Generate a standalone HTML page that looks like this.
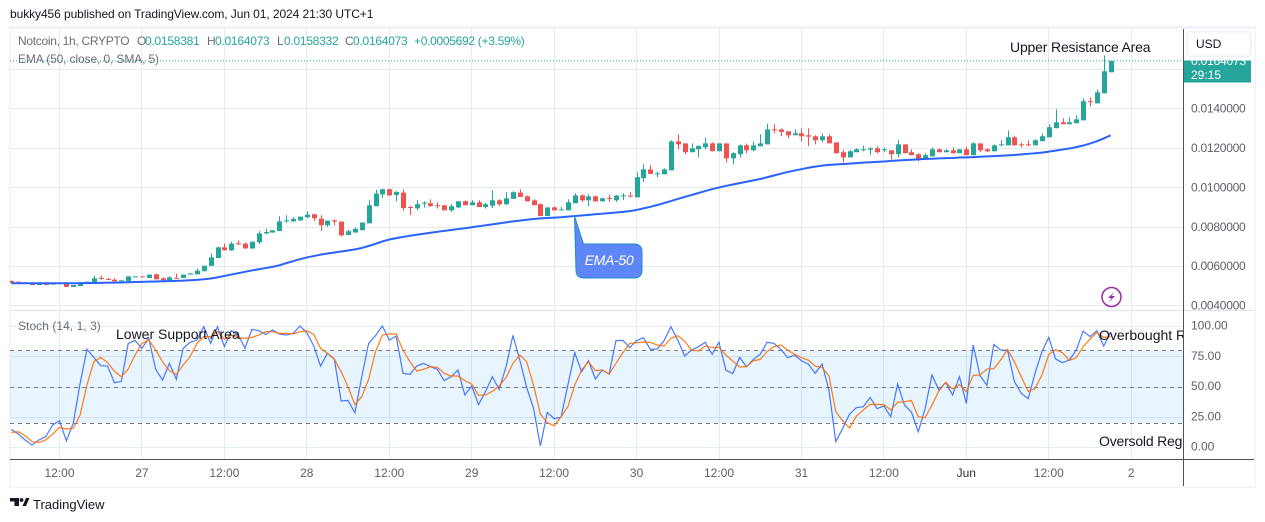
<!DOCTYPE html>
<html lang="en">
<head>
<meta charset="utf-8">
<title>Notcoin 1h chart</title>
<style>
html,body{margin:0;padding:0;background:#fff;width:1265px;height:522px;overflow:hidden}
svg{display:block}
text{font-family:"Liberation Sans",sans-serif}
</style>
</head>
<body>
<svg id="chart" width="1265" height="522" viewBox="0 0 1265 522" xmlns="http://www.w3.org/2000/svg">
  <defs>
    <clipPath id="pricePane"><rect x="10" y="29" width="1173" height="281"/></clipPath>
    <clipPath id="stochPane"><rect x="10" y="311" width="1173" height="148"/></clipPath>
  </defs>
  <text x="10" y="18" font-size="12" fill="#131722" letter-spacing="-.08">bukky456 published on TradingView.com, Jun 01, 2024 21:30 UTC+1</text>
  <rect x="9" y="26" width="1247" height="462" fill="#f0f3fa"/>
  <rect x="10.5" y="29" width="1244" height="457.5" fill="#fff"/>
  <g id="grid"></g>
  <rect id="stochBand" x="10" y="350" width="1173" height="73" fill="#2196f3" fill-opacity=".1"/>
  <g id="stochLevels"></g>
  <line x1="10" x2="1254" y1="310.5" y2="310.5" stroke="#e0e3eb"/>
  <g clip-path="url(#pricePane)">
    <g id="candles"></g>
    <path id="emaLine" fill="none" stroke="#2962ff" stroke-width="2" stroke-linejoin="round"/>
    <line id="lastPriceLine" x1="10" x2="1183" stroke="#26a69a" stroke-dasharray="1 2"/>
  </g>
  <g clip-path="url(#stochPane)">
    <path id="stochK" fill="none" stroke="#2962ff" stroke-opacity=".85" stroke-width="1.2"/>
    <path id="stochD" fill="none" stroke="#ff6d00" stroke-opacity=".9" stroke-width="1.2"/>
    <text x="116" y="339" font-size="14" fill="#131722">Lower Support Area</text>
    <text x="1099" y="340" font-size="14" fill="#131722">Overbought Region</text>
    <text x="1099" y="446" font-size="14" fill="#131722" letter-spacing="-.2">Oversold Region</text>
  </g>
  <text x="1010" y="52" font-size="14" fill="#131722" letter-spacing="-.17">Upper Resistance Area</text>
  <g>
    <path d="M574.5 216 L583.5 244 H634 Q642 244 642 252 V270 Q642 278 634 278 H584 Q576 278 576 270 Z" fill="#5f86f7" stroke="#1f8fc4" stroke-width="1"/>
    <text x="609" y="265" font-size="14" font-style="italic" fill="#fff" text-anchor="middle" letter-spacing="-.3">EMA-50</text>
  </g>
  <g font-size="12" letter-spacing="-.25">
    <text x="18" y="45" fill="#6a6d78" letter-spacing="-.3">Notcoin, 1h, CRYPTO</text>
    <text x="137" y="45" fill="#6a6d78">O</text><text x="145" y="45" fill="#26a69a">0.0158381</text>
    <text x="207" y="45" fill="#6a6d78">H</text><text x="215" y="45" fill="#26a69a">0.0164073</text>
    <text x="277" y="45" fill="#6a6d78">L</text><text x="284" y="45" fill="#26a69a">0.0158332</text>
    <text x="345" y="45" fill="#6a6d78">C</text><text x="353" y="45" fill="#26a69a">0.0164073</text>
    <text x="414" y="45" fill="#26a69a" letter-spacing="-.3">+0.0005692 (+3.59%)</text>
    <text x="18" y="63" fill="#6a6d78" letter-spacing="-.12">EMA (50, close, 0, SMA, 5)</text>
    <text x="18" y="330" fill="#6a6d78" letter-spacing=".05">Stoch (14, 1, 3)</text>
  </g>
  <g>
    <circle cx="1111.5" cy="297" r="9.5" fill="#fff" stroke="#9c27b0" stroke-width="1.5"/>
    <path d="M1114.5 291.5 L1108 298 H1111.5 L1108.5 302.5 L1115 296 H1111.5 Z" fill="#9c27b0"/>
  </g>
  <line x1="1183.5" x2="1183.5" y1="29" y2="486" stroke="#50535e"/>
  <line x1="10" x2="1254" y1="459.5" y2="459.5" stroke="#50535e"/>
  <g id="priceTicks"></g>
  <g id="stochTicks"></g>
  <g id="timeTicks"></g>
  <g>
    <rect x="1184" y="60.5" width="67" height="22" fill="#26a69a"/>
    <text x="1191" y="65" font-size="12" fill="#fff" letter-spacing="-.2">0.0164073</text>
    <text x="1191" y="79" font-size="12" fill="#fff">29:15</text>
  </g>
  <g>
    <rect x="1187" y="31.5" width="64" height="25" rx="4" fill="#fff" stroke="#f0f3fa" stroke-width="2"/>
    <text x="1196" y="48" font-size="12" fill="#131722">USD</text>
  </g>
  <g>
    <path d="M10 498 H19 V506 H14.5 V501.5 H10 Z M22.5 506 L26 498 H29.5 L26 506 Z" fill="#131722"/>
    <circle cx="21.5" cy="500" r="1.9" fill="#131722"/>
    <text x="33" y="509" font-size="13" fill="#131722">TradingView</text>
  </g>
</svg>
<script>
// Prices are in units of 0.0001 USD (52.4 = 0.00524).
const opens = [52.4,52.0,51.7,51.2,50.3,51.2,50.5,51.0,51.2,49.3,
49.8,51.3,51.5,53.9,53.4,53.0,52.2,52.2,54.4,54.7,
53.9,55.7,53.7,52.7,54.0,53.9,55.6,55.7,57.3,60.0,
64.0,69.4,67.9,71.5,71.3,68.8,72.0,76.5,76.9,77.7,
82.8,82.6,83.1,84.7,86.2,84.0,80.6,83.1,82.5,75.7,
77.0,78.1,81.6,90.3,96.3,98.9,96.0,97.2,89.9,89.2,
91.8,91.8,90.8,90.8,88.2,89.7,92.8,90.8,92.3,89.9,
90.6,93.3,91.3,94.0,97.2,95.3,93.3,91.3,85.3,89.7,
88.2,88.2,91.8,95.8,93.3,95.3,92.8,94.5,93.3,95.5,
95.7,94.8,104.5,108.9,106.7,106.5,108.5,123.2,122.2,117.7,
119.2,120.2,122.2,118.2,122.2,114.6,116.7,121.2,118.7,120.7,
121.7,129.3,129.3,128.3,126.3,127.3,126.3,125.8,123.8,125.8,
122.7,117.7,115.1,117.7,118.9,119.0,119.7,118.7,118.7,116.7,
121.7,117.7,116.7,114.1,115.6,119.2,117.7,118.7,117.2,119.2,
116.2,122.2,119.2,118.2,121.2,121.2,125.3,121.7,121.7,121.2,
123.3,125.3,129.9,132.9,131.9,132.4,133.9,143.6,142.5,147.6,
158.3];
const closes = [51.3,51.2,51.0,50.3,51.3,50.3,51.3,51.3,49.3,50.3,
51.7,52.0,53.7,53.4,52.9,52.2,52.7,54.7,54.7,54.4,
55.6,53.2,52.7,54.2,53.7,55.6,56.2,57.6,60.1,64.3,
69.4,67.9,71.3,71.0,68.9,72.3,76.5,77.2,78.1,82.6,
83.1,83.8,85.0,86.0,84.2,80.6,83.0,82.5,75.5,77.6,
78.8,82.0,90.8,96.7,98.9,95.8,97.5,89.4,89.6,91.3,
92.1,90.4,90.4,88.2,90.3,92.8,90.8,92.3,89.9,91.3,
93.3,91.3,94.3,97.4,95.0,92.8,90.8,85.3,89.7,88.2,
88.7,92.3,95.8,93.3,95.3,92.8,94.3,94.1,95.7,95.8,
95.3,105.0,109.0,106.7,107.0,109.0,123.2,121.7,117.7,119.7,
120.9,122.2,118.2,122.2,114.6,117.2,121.2,118.7,121.2,122.2,
129.3,128.8,128.0,126.3,127.3,125.8,125.6,123.8,125.8,122.2,
117.2,115.1,118.2,119.2,119.2,119.7,117.7,119.2,116.7,121.7,
117.2,116.2,114.1,116.2,119.2,117.7,118.7,117.2,119.2,116.2,
122.2,118.7,118.2,121.2,121.7,125.3,121.2,121.2,121.2,123.8,
125.8,130.4,132.9,131.9,132.9,134.4,143.6,143.1,148.1,158.8,
164.1];
const highs = [52.6,52.0,51.7,51.2,51.3,51.2,51.3,51.4,51.2,50.3,
51.7,52.0,55.1,55.1,53.9,53.7,52.7,54.7,54.7,54.7,
55.6,56.1,54.2,54.7,56.1,55.6,56.2,58.6,60.1,66.2,
69.9,71.3,72.3,73.0,71.8,72.3,77.6,78.9,78.1,85.2,
85.7,84.8,85.0,87.7,86.5,85.7,83.0,83.6,82.5,78.4,
79.4,82.0,93.3,98.7,99.2,99.2,98.0,98.9,90.4,93.3,
92.8,93.8,92.3,90.8,91.6,92.8,93.3,93.3,93.3,92.0,
98.4,93.8,97.4,97.9,98.9,95.8,93.8,91.8,89.7,90.3,
89.9,93.8,96.9,96.3,96.3,95.8,94.7,96.2,96.0,96.9,
97.4,107.5,111.6,111.1,107.9,109.6,123.8,126.8,122.2,122.2,
121.2,125.1,122.7,122.2,122.2,117.7,121.7,122.1,123.2,126.8,
132.2,131.9,129.8,128.3,129.3,129.8,129.8,126.3,127.3,126.8,
122.7,119.0,119.0,119.7,121.1,120.2,120.7,120.2,118.7,123.8,
121.7,119.2,117.2,117.2,120.2,119.7,119.2,120.2,119.2,120.7,
122.7,122.2,119.7,121.7,123.8,128.8,125.8,122.7,123.8,124.3,
127.3,131.9,139.5,134.9,135.4,136.4,145.1,145.6,149.6,166.9,
164.1];
const lows = [51.2,51.2,51.0,50.3,50.3,50.3,50.5,51.0,49.3,49.3,
49.8,51.3,51.5,53.0,52.9,52.2,52.2,52.2,54.4,54.4,
53.9,53.2,52.7,52.7,53.7,53.9,55.6,55.7,57.3,60.0,
64.0,67.9,67.6,70.6,68.6,68.8,71.1,76.0,76.9,77.7,
81.8,82.3,82.8,84.3,82.8,77.7,79.8,80.6,75.0,75.7,
76.7,78.1,81.6,90.3,94.3,95.5,92.8,87.9,85.7,88.2,
89.6,89.9,89.1,88.2,87.4,89.4,90.8,90.8,89.9,89.1,
89.4,90.4,90.8,94.0,95.0,92.8,90.8,85.3,85.3,88.2,
88.2,88.2,91.8,92.5,90.4,92.5,92.5,92.5,92.5,93.5,
94.7,94.8,102.6,106.7,105.1,106.5,108.5,119.2,116.7,117.7,
115.1,119.2,118.2,118.2,112.6,111.6,115.1,117.3,118.2,120.7,
121.7,127.3,125.8,124.8,126.3,123.2,120.7,121.7,122.7,122.2,
117.2,112.6,115.1,117.7,118.2,116.2,117.2,117.7,114.1,115.1,
117.2,116.2,113.1,114.1,115.6,117.7,117.7,117.2,117.2,116.2,
116.2,117.7,117.7,118.2,120.7,121.2,121.2,120.2,120.7,121.2,
123.3,125.3,129.9,131.9,131.9,132.4,133.9,141.0,142.5,147.6,
158.3];
const ema50 = [51.2,51.2,51.2,51.2,51.2,51.2,51.2,51.2,51.2,51.2,51.2,
51.3,51.3,51.4,51.5,51.5,51.6,51.7,51.8,
51.9,52.0,52.1,52.2,52.3,52.4,52.5,52.7,52.9,
53.2,53.6,54.2,
54.9,55.6,56.3,57.0,57.7,58.3,58.9,59.5,
60.3,61.4,62.4,63.4,64.3,
65.0,65.7,66.3,66.8,67.3,67.8,68.4,69.1,
70.1,71.2,72.4,73.4,
74.1,74.7,75.3,75.8,
76.3,76.8,77.3,77.8,78.2,78.7,79.1,79.6,
80.1,80.6,81.1,81.6,82.1,82.6,83.0,83.4,
83.8,84.1,84.3,84.5,84.7,85.0,85.3,
85.6,85.9,86.2,86.5,86.8,87.1,87.4,87.8,
88.4,89.2,90.0,90.9,91.9,
92.9,94.0,95.0,
96.0,97.0,98.0,99.0,99.8,
100.6,101.3,102.0,102.7,103.4,104.1,
105.0,105.9,106.8,107.7,
108.4,109.1,109.8,110.4,110.9,
111.3,111.5,111.7,
111.9,112.2,112.4,112.6,112.8,113.0,113.3,113.5,113.7,113.9,114.1,114.3,
114.4,114.6,114.7,114.8,115.0,115.1,
115.2,115.4,115.6,115.7,115.9,116.1,
116.3,116.6,116.9,117.2,117.5,
118.0,118.5,119.1,119.6,120.3,
121.1,122.1,123.3,124.7,126.3];
const stochKValues = [14.6,10.7,5.8,1.6,5.8,8.5,18.2,21.7,5.2,19.5,
52.6,80.7,74.1,67.2,66.9,53.1,54.2,85.6,88.1,81.5,
89.8,64.2,55.3,69.1,55.9,81.5,86.5,88.4,99.4,85.6,
99.4,82.9,96.1,93.1,81.5,97.2,96.1,93.1,96.7,93.4,
92.5,93.9,99.9,94.5,83.7,66.9,77.4,72.7,38.0,38.5,
28.3,58.1,85.6,92.0,100,88.4,91.7,60.9,60.0,66.9,
69.1,66.4,64.2,54.8,58.1,63.6,43.0,50.4,35.0,45.7,
58.1,47.6,66.4,92.3,71.9,49.3,31.9,0.8,28.6,23.4,
24.5,51.2,77.9,62.2,71.3,56.2,63.6,60.3,87.9,88.1,
82.1,87.9,90.3,80.7,81.0,87.9,99.4,88.4,75.2,80.1,
82.9,86.5,76.6,86.5,63.6,60.6,74.1,66.4,72.4,76.6,
86.5,85.6,80.7,73.8,76.0,71.3,68.6,60.9,68.6,47.1,
4.4,15.4,27.2,32.5,33.3,41.0,31.7,33.9,25.0,52.0,
34.7,28.9,12.6,31.7,59.5,47.1,53.4,43.0,58.1,36.1,
84.3,58.9,50.9,84.8,80.1,79.9,54.0,44.3,39.9,60.9,
78.8,90.6,72.7,69.7,71.9,80.1,95.8,91.2,96.1,83.4,
95.0];
const stochDValues = [12.1,12.6,9.3,4.4,3.8,5.8,10.7,16.2,14.8,15.4,
26.4,51.2,70.5,74.1,69.7,62.5,58.1,64.4,76.0,85.6,
88.4,80.1,70.5,63.1,60.0,67.7,74.6,85.6,91.2,91.2,
95.3,89.0,92.5,90.3,89.8,90.6,92.5,95.3,95.3,93.9,
93.9,93.4,95.3,96.1,93.1,81.5,77.4,72.7,62.2,49.8,
35.0,41.6,55.9,78.8,92.5,93.4,93.4,80.1,70.5,62.8,
64.2,66.4,65.8,60.9,58.7,58.7,54.8,52.0,42.7,43.0,
46.0,50.4,57.3,69.1,76.0,70.5,51.2,27.2,20.1,17.6,
25.0,33.3,51.2,63.6,70.5,63.1,63.6,60.3,69.1,77.9,
85.6,86.2,86.8,86.5,84.3,83.4,89.8,92.0,87.6,80.1,
79.3,83.4,82.3,82.3,76.0,71.0,66.1,66.4,71.3,72.4,
78.8,82.9,84.3,80.1,76.6,73.8,71.9,66.9,65.8,58.7,
29.2,21.7,15.7,25.6,30.6,35.2,35.2,35.0,30.6,36.9,
37.4,38.5,25.0,24.2,34.7,46.3,53.4,47.9,51.5,45.7,
59.2,59.5,64.4,64.7,71.9,80.7,70.5,58.1,46.0,48.2,
59.5,76.3,80.4,77.9,71.6,73.8,82.9,89.2,94.7,90.6,
91.2];
const priceTickValues = [140,120,100,80,60,40];
const priceTickLabels = ['0.0140000','0.0120000','0.0100000','0.0080000','0.0060000','0.0040000'];
const priceGridValues = [160,140,120,100,80,60,40];
const stochTickValues = [100,75,50,25,0];
const stochTickLabels = ['100.00','75.00','50.00','25.00','0.00'];
const stochLevelValues = [80,50,20];
const timeTickHours = [7,19,31,43,55,67,79,91,103,115,127,139,151,163];
const timeTickLabels = ['12:00','27','12:00','28','12:00','29','12:00','30','12:00','31','12:00','Jun','12:00','2'];
const lastPrice = 164.073;

const NS = 'http://www.w3.org/2000/svg';
const xAt = h => 11.4 + h * 6.87;
const yPrice = v => 108.3 + (140 - v) * 1.97;
const yStoch = v => 447 - v * 1.21;
const linePath = (vals, yf) => vals.map((v, i) => (i ? 'L' : 'M') + xAt(i).toFixed(2) + ' ' + yf(v).toFixed(2)).join(' ');
function make(tag, parent, attrs, text) {
  const el = document.createElementNS(NS, tag);
  for (const k in attrs) el.setAttribute(k, attrs[k]);
  if (text !== undefined) el.textContent = text;
  parent.appendChild(el);
  return el;
}
const grid = document.getElementById('grid');
const gridColor = '#e4ebf2';
priceGridValues.forEach(v => {
  const y = Math.round(yPrice(v)) + .5;
  const el = make('line', grid, {x1: 10, x2: 1183, y1: y, y2: y, stroke: gridColor});
  
  
});
stochTickValues.forEach(v => {
  const y = Math.round(yStoch(v)) + .5;
  const el = make('line', grid, {x1: 10, x2: 1183, y1: y, y2: y, stroke: gridColor});
  
  
});
timeTickHours.forEach(h => {
  const x = Math.floor(xAt(h)) + .5;
  const a = make('line', grid, {x1: x, x2: x, y1: 29, y2: 459, stroke: gridColor});
  
  
});
const levels = document.getElementById('stochLevels');
stochLevelValues.forEach(v => {
  const y = Math.round(yStoch(v)) + .5;
  const el = make('line', levels, {x1: 10, x2: 1183, y1: y, y2: y, stroke: '#787b86', 'stroke-dasharray': '4 4'});
  
  
});
const band = document.getElementById('stochBand');
band.setAttribute('y', yStoch(stochLevelValues[0]));
band.setAttribute('height', yStoch(stochLevelValues[2]) - yStoch(stochLevelValues[0]));

const candles = document.getElementById('candles');
opens.forEach((o, i) => {
  const c = closes[i];
  const color = c >= o ? '#26a69a' : '#ef5350';
  const x = Math.round(xAt(i));
  const top = yPrice(Math.max(o, c));
  const bottom = yPrice(Math.min(o, c));
  const g = make('g', candles, {});
  
  
  make('rect', g, {x: x, y: yPrice(highs[i]).toFixed(2), width: 1, height: (yPrice(lows[i]) - yPrice(highs[i])).toFixed(2), fill: color});
  make('rect', g, {x: x - 2, y: top.toFixed(2), width: 5, height: Math.max(bottom - top, 1).toFixed(2), fill: color});
});
document.getElementById('emaLine').setAttribute('d', linePath(ema50, yPrice));
document.getElementById('stochK').setAttribute('d', linePath(stochKValues, yStoch));
document.getElementById('stochD').setAttribute('d', linePath(stochDValues, yStoch));
const lastLine = document.getElementById('lastPriceLine');
lastLine.setAttribute('y1', yPrice(lastPrice));
lastLine.setAttribute('y2', yPrice(lastPrice));

const priceTicks = document.getElementById('priceTicks');
priceTickValues.forEach((v, i) => {
  const el = make('text', priceTicks, {x: 1191, y: (yPrice(v) + 4.3).toFixed(1), 'font-size': 12, fill: '#5d606b', 'letter-spacing': '-.25'}, priceTickLabels[i]);
  
  
});
const stochTicks = document.getElementById('stochTicks');
stochTickValues.forEach((v, i) => {
  const el = make('text', stochTicks, {x: 1191, y: (yStoch(v) + 3.5).toFixed(1), 'font-size': 12, fill: '#5d606b'}, stochTickLabels[i]);
  
  
});
const timeTicks = document.getElementById('timeTicks');
timeTickHours.forEach((h, i) => {
  const bold = timeTickLabels[i] === 'Jun';
  const el = make('text', timeTicks, {x: xAt(h).toFixed(1), y: 477, 'font-size': 12, 'text-anchor': 'middle', fill: bold ? '#2a2e39' : '#5d606b'}, timeTickLabels[i]);
  
  
});
</script>
</body>
</html>
